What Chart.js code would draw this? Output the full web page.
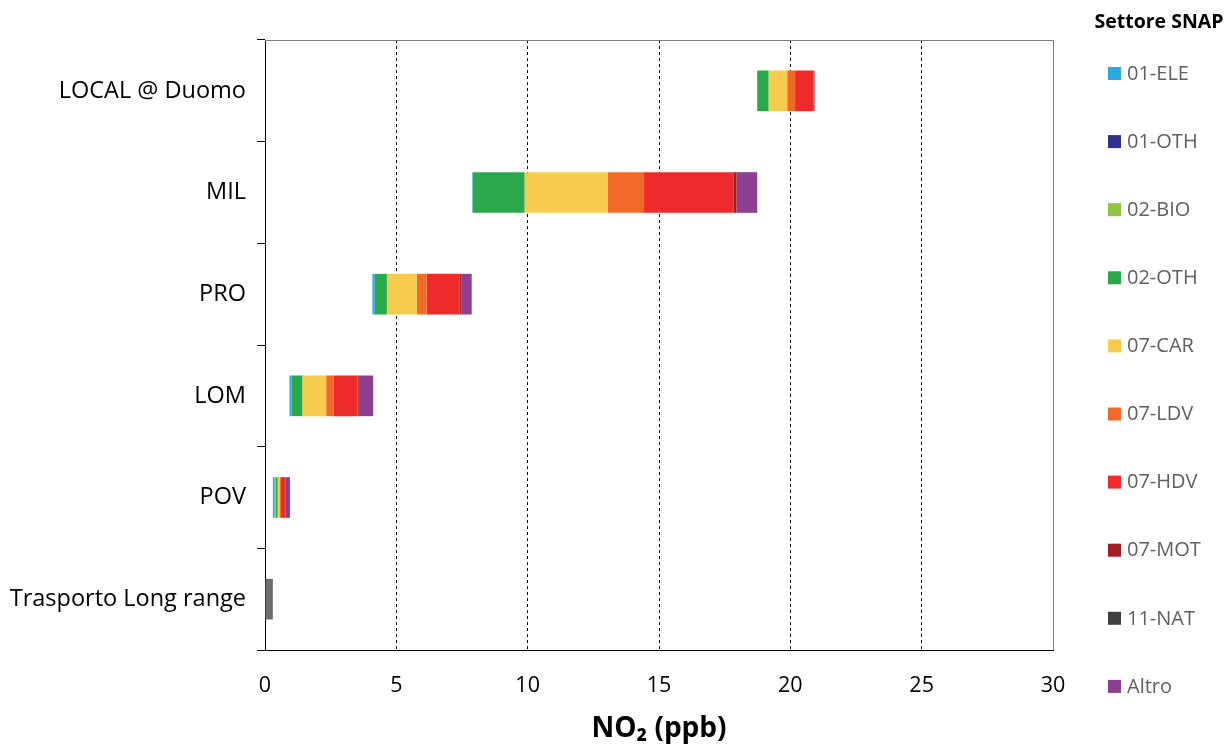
<!DOCTYPE html>
<html>
<head>
<meta charset="utf-8">
<script src="https://cdn.jsdelivr.net/npm/chart.js@4.4.1/dist/chart.umd.min.js"></script>
<style>
html,body{margin:0;padding:0;background:#fff;}
#wrap{width:1232px;height:749px;position:relative;}
</style>
</head>
<body>
<div id="wrap"><canvas id="c" width="1232" height="749"></canvas></div>
<script>
const categories = ["LOCAL @ Duomo", "MIL", "PRO", "LOM", "POV", "Trasporto Long range"];
const xTicks = [0, 5, 10, 15, 20, 25, 30];

// start of each floating bar (ppb)
const offsets   = [18.74, 7.89, 4.09, 0.93, 0.30, 0];
const longRange = [0, 0, 0, 0, 0, 0.30];

const sectorNames  = ["01-ELE","01-OTH","02-BIO","02-OTH","07-CAR","07-LDV","07-HDV","07-MOT","11-NAT","Altro"];
const sectorColors = ["#29ABE2","#2E3192","#8DC63F","#2BA84A","#F7CC4E","#F26A2A","#EE2B2A","#A11F22","#404040","#8E3F91"];

const ele01 = [0,    0.02, 0.09, 0.08, 0.06, 0];
const oth01 = [0,    0,    0,    0,    0,    0];
const bio02 = [0,    0,    0,    0,    0.06, 0];
const oth02 = [0.43, 1.97, 0.46, 0.41, 0.06, 0];
const car07 = [0.71, 3.17, 1.14, 0.91, 0.07, 0];
const ldv07 = [0.30, 1.38, 0.37, 0.28, 0.06, 0];
const hdv07 = [0.71, 3.42, 1.25, 0.92, 0.18, 0];
const mot07 = [0.03, 0.10, 0.07, 0.04, 0.01, 0];
const nat11 = [0,    0,    0,    0,    0,    0];
const altro = [0,    0.79, 0.40, 0.55, 0.15, 0];

const sectorData = [ele01, oth01, bio02, oth02, car07, ldv07, hdv07, mot07, nat11, altro];

const FONT = "'Open Sans'";

const datasets = [
  {label: "_base", data: offsets, backgroundColor: "rgba(0,0,0,0)", legend: false},
  {label: "_long", data: longRange, backgroundColor: "#6E6E6E", legend: false}
];
sectorNames.forEach((n, i) => datasets.push({label: n, data: sectorData[i], backgroundColor: sectorColors[i], legend: true}));
datasets.forEach(d => { d.barPercentage = 0.4; d.categoryPercentage = 1; d.borderWidth = 0; });

const framePlugin = {
  id: "frame",
  afterDraw(chart) {
    const {ctx, chartArea: a} = chart;
    ctx.save();
    ctx.strokeStyle = "#7f7f7f";
    ctx.lineWidth = 1;
    ctx.beginPath();
    ctx.moveTo(a.left, a.top + 0.5);
    ctx.lineTo(a.right + 0.5, a.top + 0.5);
    ctx.lineTo(a.right + 0.5, a.bottom);
    ctx.stroke();
    // legend
    ctx.fillStyle = "#000";
    ctx.font = "bold 19.5px " + FONT;
    ctx.textAlign = "center";
    ctx.textBaseline = "middle";
    ctx.fillText("Settore SNAP", 1159, 22);
    ctx.font = "20px " + FONT;
    ctx.textAlign = "left";
    const items = chart.data.datasets.filter(d => d.legend);
    items.forEach((d, i) => {
      const y = 74 + i * 68.1;
      ctx.fillStyle = d.backgroundColor;
      ctx.fillRect(1108, y - 7, 13, 13);
      ctx.fillStyle = "#606060";
      ctx.fillText(d.label, 1127, y);
    });
    ctx.restore();
  }
};

new Chart(document.getElementById("c"), {
  type: "bar",
  data: {labels: categories, datasets},
  plugins: [framePlugin],
  options: {
    indexAxis: "y",
    responsive: false,
    animation: false,
    layout: {padding: {top: 40, right: 179, left: 0, bottom: 0}},
    plugins: {legend: {display: false}, tooltip: {enabled: false}},
    scales: {
      x: {
        stacked: true,
        min: 0, max: 30,
        afterBuildTicks(s) { s.ticks = xTicks.map(v => ({value: v})); },
        afterFit(s) { s.height = 99; },
        grid: {
          drawTicks: false,
          color: c => (c.tick && (c.tick.value === 0 || c.tick.value === 30)) ? "rgba(0,0,0,0)" : "#000",
          lineWidth: 1
        },
        border: {display: true, color: "#000", width: 1, dash: [3, 3]},
        ticks: {font: {family: FONT, size: 21.5}, color: "#000", padding: 23, maxRotation: 0},
        title: {display: true, text: "NO₂ (ppb)", font: {family: FONT, size: 28, weight: "bold"}, color: "#000", padding: {top: 0, bottom: 3}}
      },
      y: {
        stacked: true,
        afterFit(s) { s.width = 265; },
        border: {display: true, color: "#000", width: 1},
        grid: {offset: true, drawOnChartArea: false, drawTicks: true, tickLength: 8, color: "#000"},
        ticks: {font: {family: FONT, size: 23.5}, color: "#000", padding: 11}
      }
    }
  }
});
</script>
</body>
</html>
